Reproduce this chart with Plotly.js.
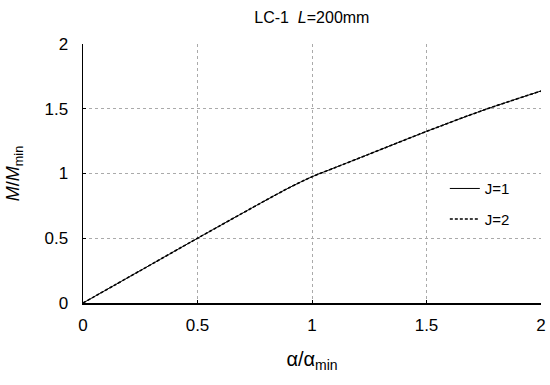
<!DOCTYPE html>
<html>
<head>
<meta charset="utf-8">
<script src="https://cdn.plot.ly/plotly-3.0.1.min.js"></script>
<style>
  body { margin: 0; background: #fff; }
  #chart { width: 550px; height: 385px; }
</style>
</head>
<body>
<div id="chart"></div>
<script>
// alpha/alpha_min on x, M/M_min on y
const alphaRatio = [0, 0.25, 0.5, 0.8, 0.9, 1, 1.1, 1.25, 1.5, 1.75, 2]
const momentJ1 = [0, 0.25, 0.5, 0.795, 0.89, 0.975, 1.045, 1.15, 1.325, 1.49, 1.637]
const momentJ2 = [0, 0.25, 0.5, 0.795, 0.89, 0.975, 1.045, 1.15, 1.325, 1.49, 1.637]
const tickVals = [0, 0.5, 1, 1.5, 2]
const tickText = ['0', '0.5', '1', '1.5', '2']

const data = [
  {
    type: 'scatter', mode: 'lines', name: 'J=1', legendgroup: 'a',
    x: alphaRatio, y: momentJ1,
    line: { color: '#000', width: 1, shape: 'spline', smoothing: 0.8 }
  },
  {
    type: 'scatter', mode: 'lines', name: 'J=2', legendgroup: 'b',
    x: alphaRatio, y: momentJ2,
    line: { color: '#000', width: 1.6, dash: '3px,2px', shape: 'spline', smoothing: 0.8 }
  }
]

const axisCommon = {
  range: [0, 2],
  tickvals: tickVals,
  ticktext: tickText,
  ticks: 'inside',
  ticklen: 3,
  tickcolor: '#000',
  showline: true,
  linecolor: '#000',
  linewidth: 1.5,
  showgrid: true,
  gridcolor: '#aaa',
  griddash: 'dot',
  gridwidth: 1,
  zeroline: false,
  tickfont: { family: 'Arial, Liberation Sans', size: 17, color: '#000' }
}

const layout = {
  width: 550, height: 385,
  margin: { l: 83, r: 9, t: 44, b: 82 },
  paper_bgcolor: '#fff',
  plot_bgcolor: '#fff',
  font: { family: 'Arial, Liberation Sans', color: '#000' },
  title: {
    text: 'LC-1  <i>L</i>=200mm',
    font: { size: 16 },
    x: 0.567, xanchor: 'center', y: 0.955, yanchor: 'middle'
  },
  xaxis: Object.assign({}, axisCommon, {
    ticklabelstandoff: 6,
    title: { text: 'α/α<sub>min</sub>', font: { size: 20 }, standoff: 18 }
  }),
  yaxis: Object.assign({}, axisCommon, {
    ticklabelstandoff: 10,
    title: { text: '<i>M</i>/<i>M</i><sub>min</sub>', font: { size: 18 }, standoff: 20 }
  }),
  showlegend: true,
  legend: {
    x: 0.79, y: 0.505, xanchor: 'left', yanchor: 'top',
    bgcolor: 'rgba(0,0,0,0)',
    font: { size: 15 },
    tracegroupgap: 8
  }
}

Plotly.newPlot('chart', data, layout, { displayModeBar: false, staticPlot: true })
</script>
</body>
</html>
